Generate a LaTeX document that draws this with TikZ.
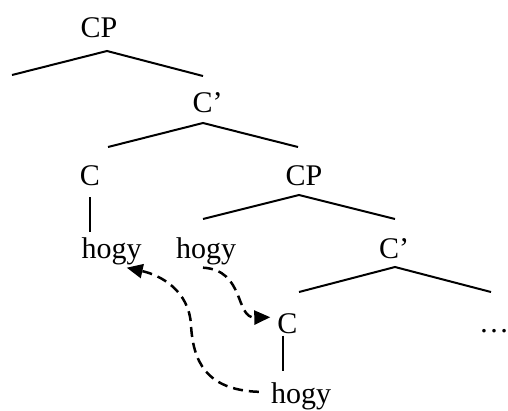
\documentclass[tikz,border=0pt]{standalone}
\usepackage{fontspec}
\setmainfont{Liberation Serif}
\usetikzlibrary{arrows.meta}
\tikzset{
  lbl/.style={anchor=base, inner sep=0pt, font=\fontsize{30}{36}\selectfont},
  branch/.style={line width=2pt},
  stem/.style={line width=2pt},
  mover/.style={line width=2.5pt, dash pattern=on 10pt off 6pt,
    -{Triangle[length=16pt,width=14pt]}}
}
\begin{document}
\begin{tikzpicture}[x=1pt,y=-1pt]
\useasboundingbox (0,0) rectangle (508,410);
% labels
\node[lbl] (CP1) at (99,37) {CP};
\node[lbl] (Cb1) at (207.5,112) {C’};
\node[lbl] (C1) at (90,185) {C};
\node[lbl] (CP2) at (304,185) {CP};
\node[lbl] (hogy1) at (111.5,258) {hogy};
\node[lbl] (hogy2) at (206,258) {hogy};
\node[lbl] (Cb2) at (394,258) {C’};
\node[lbl] (C3) at (287.5,333) {C};
\node[lbl] (dots) at (494,332) {…};
\node[lbl] (hogy3) at (301,403) {hogy};
% branch coordinates
\coordinate (l1) at (12,75);   \coordinate (p1) at (107,51);  \coordinate (r1) at (203,76);
\coordinate (l2) at (108,147); \coordinate (p2) at (203,123); \coordinate (r2) at (298,147);
\coordinate (l3) at (203,219); \coordinate (p3) at (299,195); \coordinate (r3) at (395,219);
\coordinate (l4) at (299,292); \coordinate (p4) at (395,267); \coordinate (r4) at (491,292);
\draw[branch] (l1) -- (p1) -- (r1);
\draw[branch] (l2) -- (p2) -- (r2);
\draw[branch] (l3) -- (p3) -- (r3);
\draw[branch] (l4) -- (p4) -- (r4);
% stems
\draw[stem] ([yshift=-12pt]C1.south) -- ++(0,35);
\draw[stem] ([shift={(-5,2)}]C3.south) -- ++(0,35);
% movement arrows
\draw[mover] ([shift={(-3,3)}]hogy2.south) .. controls (245,270) and (235,318) .. ([shift={(-7,-6)}]C3.west);
\draw[mover] ([shift={(-12,-4)}]hogy3.west) .. controls (205,390) and (193,360) .. (191,325)
  .. controls (189,290) and (160,275) .. ([shift={(-15,3)}]hogy1.south east);
\end{tikzpicture}
\end{document}
